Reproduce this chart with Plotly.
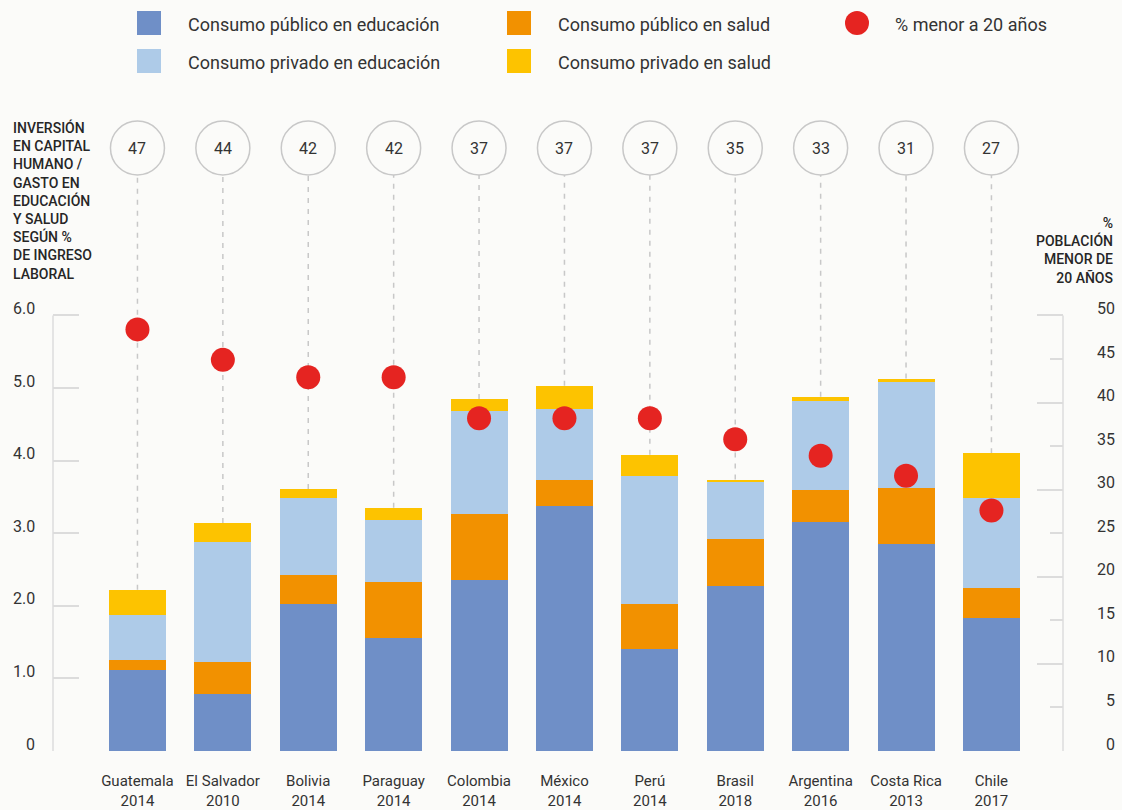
import plotly.graph_objects as go

# ---------------- data ----------------
countries = ["Guatemala", "El Salvador", "Bolivia", "Paraguay", "Colombia", "México",
             "Perú", "Brasil", "Argentina", "Costa Rica", "Chile"]
years = ["2014", "2010", "2014", "2014", "2014", "2014", "2014", "2018", "2016", "2013", "2017"]
pub_edu = [1.12, 0.79, 2.02, 1.56, 2.35, 3.38, 1.40, 2.27, 3.16, 2.85, 1.83]
pub_sal = [0.14, 0.44, 0.41, 0.77, 0.91, 0.35, 0.62, 0.65, 0.43, 0.77, 0.41]
priv_edu = [0.62, 1.65, 1.06, 0.85, 1.42, 0.98, 1.77, 0.79, 1.23, 1.47, 1.24]
priv_sal = [0.34, 0.26, 0.12, 0.17, 0.17, 0.32, 0.29, 0.03, 0.06, 0.04, 0.62]
pct_under20 = [48.4, 44.9, 42.9, 42.9, 38.2, 38.2, 38.2, 35.8, 33.9, 31.6, 27.6]
pct_labels = ["47", "44", "42", "42", "37", "37", "37", "35", "33", "31", "27"]
left_tickvals = [0, 1, 2, 3, 4, 5, 6]
left_ticktext = ["0", "1.0", "2.0", "3.0", "4.0", "5.0", "6.0"]
right_major = [0, 10, 20, 30, 40, 50]
right_minor = [5, 15, 25, 35, 45]
right_labels = [0, 5, 10, 15, 20, 25, 30, 35, 40, 45, 50]

series_names = ["Consumo público en educación", "Consumo público en salud",
                "Consumo privado en educación", "Consumo privado en salud"]
dot_name = "% menor a 20 años"
left_title = "INVERSIÓN<br>EN CAPITAL<br>HUMANO /<br>GASTO EN<br>EDUCACIÓN<br>Y SALUD<br>SEGÚN %<br>DE INGRESO<br>LABORAL"
right_title = "%<br>POBLACIÓN<br>MENOR DE<br>20 AÑOS"

# ---------------- style ----------------
C_PUB_EDU = "#6f8fc7"
C_PUB_SAL = "#f29100"
C_PRIV_EDU = "#aecbe8"
C_PRIV_SAL = "#fdc300"
C_DOT = "#e52421"
C_TEXT = "#333333"
C_GRID = "#dcdcdc"
C_CIRC = "#c8c8c8"
BG = "#fbfbf9"
FONT = "Roboto"

W, H = 1122, 810
ML, MR, MT, MB = 53, 59, 110, 59
PW, PH = W - ML - MR, H - MT - MB
YMAX = 8.83
Y2MAX = YMAX * 50 / 6
XR = (-0.989, 10.838)
px_per_x = PW / (XR[1] - XR[0])
px_per_y = PH / YMAX


def px_x(px):
    return (px - ML) / PW


def px_y(py):
    return (H - MB - py) / PH


ticktext = [f"{c}<br>{y}" for c, y in zip(countries, years)]
totals = [a + b + c + d for a, b, c, d in zip(pub_edu, pub_sal, priv_edu, priv_sal)]

fig = go.Figure()
for vals, name, col in [(pub_edu, series_names[0], C_PUB_EDU),
                        (pub_sal, series_names[1], C_PUB_SAL),
                        (priv_edu, series_names[2], C_PRIV_EDU),
                        (priv_sal, series_names[3], C_PRIV_SAL)]:
    fig.add_trace(go.Bar(x=countries, y=vals, name=name, marker=dict(color=col, line=dict(width=0)),
                         width=0.667, showlegend=False))

fig.add_trace(go.Scatter(x=countries, y=pct_under20, name=dot_name, mode="markers", yaxis="y2",
                         marker=dict(size=24, color=C_DOT, line=dict(width=0)), showlegend=False))

shapes = []
annotations = []

# top circles + dashed connectors
CY = (H - MB - 148) / px_per_y
RX = 27 / px_per_x
RY = 27 / px_per_y
for i, (lab, tot) in enumerate(zip(pct_labels, totals)):
    shapes.append(dict(type="line", xref="x", yref="y", x0=i, x1=i, y0=tot, y1=CY - RY,
                       line=dict(color=C_CIRC, width=1.5, dash="5px,6px"), layer="below"))
    shapes.append(dict(type="circle", xref="x", yref="y", x0=i - RX, x1=i + RX, y0=CY - RY, y1=CY + RY,
                       line=dict(color=C_CIRC, width=1.5), fillcolor=BG, layer="above"))
    annotations.append(dict(x=i, y=CY, xref="x", yref="y", text=lab, showarrow=False,
                            font=dict(family=FONT, size=16, color=C_TEXT)))

# axis lines
shapes.append(dict(type="line", xref="paper", yref="y", x0=0, x1=0, y0=0, y1=6,
                   line=dict(color=C_GRID, width=1.5)))
shapes.append(dict(type="line", xref="paper", yref="y2", x0=1, x1=1, y0=0, y1=50,
                   line=dict(color=C_GRID, width=1.5)))

# left tick labels
for v, t in zip(left_tickvals, left_ticktext):
    annotations.append(dict(x=px_x(37), y=v, xref="paper", yref="y", text=t, showarrow=False,
                            xanchor="right", yanchor="middle", yshift=7,
                            font=dict(family=FONT, size=16, color=C_TEXT)))
# right tick labels
for v in right_labels:
    annotations.append(dict(x=px_x(1117), y=v, xref="paper", yref="y2", text=str(v), showarrow=False,
                            xanchor="right", yanchor="middle", yshift=7,
                            font=dict(family=FONT, size=16, color=C_TEXT)))

# axis titles
annotations.append(dict(x=px_x(11), y=px_y(117), xref="paper", yref="paper", text=left_title,
                        showarrow=False, xanchor="left", yanchor="top", align="left",
                        font=dict(family=FONT, size=14, color="#262626", weight=500)))
annotations.append(dict(x=px_x(1115), y=px_y(213), xref="paper", yref="paper", text=right_title,
                        showarrow=False, xanchor="right", yanchor="top", align="right",
                        font=dict(family=FONT, size=14, color="#262626", weight=500)))

# custom legend
legend_items = [
    (series_names[0], C_PUB_EDU, 137, 23, "sq"),
    (series_names[2], C_PRIV_EDU, 137, 61, "sq"),
    (series_names[1], C_PUB_SAL, 507, 23, "sq"),
    (series_names[3], C_PRIV_SAL, 507, 61, "sq"),
    (dot_name, C_DOT, 845, 23, "ci"),
]
for name, col, x0, yc, kind in legend_items:
    shapes.append(dict(type="rect" if kind == "sq" else "circle", xref="paper", yref="paper",
                       x0=px_x(x0), x1=px_x(x0 + 24), y0=px_y(yc + 12), y1=px_y(yc - 12),
                       fillcolor=col, line=dict(width=0)))
    annotations.append(dict(x=px_x(x0 + (49 if kind == "sq" else 48)), y=px_y(yc + 1.5), xref="paper", yref="paper",
                            text=name, showarrow=False, xanchor="left", yanchor="middle",
                            font=dict(family=FONT, size=18, color=C_TEXT)))

fig.update_layout(
    width=W, height=H,
    margin=dict(l=ML, r=MR, t=MT, b=MB, autoexpand=False),
    paper_bgcolor=BG, plot_bgcolor=BG,
    barmode="stack",
    font=dict(family=FONT, color=C_TEXT),
    showlegend=False,
    xaxis=dict(range=list(XR), tickmode="array", tickvals=countries, ticktext=ticktext,
               showgrid=False, zeroline=False, showline=False, ticks="", automargin=False,
               tickfont=dict(family=FONT, size=15, color=C_TEXT), ticklabelstandoff=19),
    yaxis=dict(range=[0, YMAX], tickmode="array", tickvals=left_tickvals, automargin=False,
               showticklabels=False, showgrid=False, zeroline=False, showline=False,
               ticks="inside", ticklen=26, tickcolor=C_GRID, tickwidth=1.5),
    yaxis2=dict(range=[0, Y2MAX], overlaying="y", side="right", tickmode="array", tickvals=right_major,
                showticklabels=False, showgrid=False, zeroline=False, showline=False, automargin=False,
                ticks="inside", ticklen=26, tickcolor=C_GRID, tickwidth=1.5,
                minor=dict(tickmode="array", tickvals=right_minor, ticks="inside", ticklen=13,
                           tickcolor=C_GRID, tickwidth=1.5, showgrid=False)),
    shapes=shapes,
    annotations=annotations,
)

fig.write_html("out.html", config={"displayModeBar": False},
               post_script="document.body.style.margin='0';document.body.style.background='" + BG + "';")
